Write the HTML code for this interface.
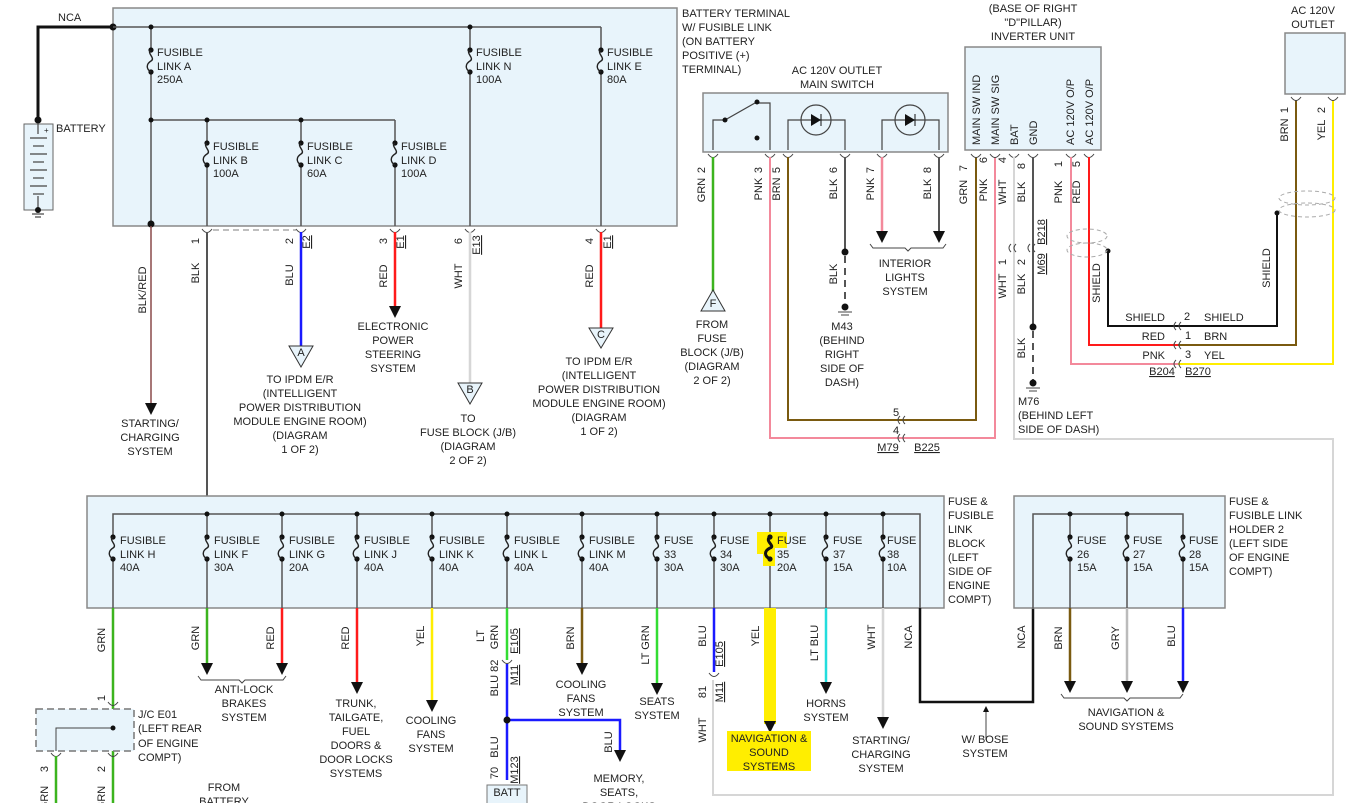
<!DOCTYPE html>
<html><head><meta charset="utf-8"><style>
html,body{margin:0;padding:0;background:#fff;}
svg{display:block;font-family:"Liberation Sans",sans-serif;font-size:11px;fill:#222;}
.b{fill:#e8f4fb;stroke:#888;stroke-width:1.5}
.w{fill:none;stroke-width:2}
.k{stroke:#555}
.f{fill:none;stroke:#222;stroke-width:1.6}
text{fill:#222}
.c{text-anchor:middle}
</style></head><body>
<svg width="1358" height="803" viewBox="0 0 1358 803" xmlns="http://www.w3.org/2000/svg">
<defs>
<g id="fz"><circle cx="0" cy="0" r="2.6" fill="#111"/><circle cx="0" cy="22" r="2.6" fill="#111"/><path d="M0,0 C-5,3 5,8 0,11 C-5,14 -5,19 0,22" fill="none" stroke="#222" stroke-width="1.4"/></g>
<g id="cu"><path d="M-5,-3 Q0,4 5,-3" fill="none" stroke="#444" stroke-width="1"/></g>
<g id="ar"><polygon points="-6,-12 6,-12 0,0" fill="#111"/></g>
</defs>

<!-- TOP BOX -->
<rect class="b" x="113" y="8" width="564" height="218"/>
<polyline class="w" stroke="#111" stroke-width="3" points="113,27 38,27 38,120" style="stroke-width:3"/>
<circle cx="113" cy="27" r="3.5" fill="#111"/>
<circle cx="38" cy="120" r="3.5" fill="#111"/>
<text x="58" y="21">NCA</text>
<rect x="24" y="124" width="29" height="86" fill="#e8f4fb" stroke="#666"/>
<g stroke="#444" stroke-width="1.2"><line x1="30" y1="138" x2="47" y2="138"/><line x1="33" y1="146" x2="44" y2="146"/><line x1="30" y1="154" x2="47" y2="154"/><line x1="33" y1="162" x2="44" y2="162"/><line x1="30" y1="170" x2="47" y2="170"/><line x1="33" y1="178" x2="44" y2="178"/><line x1="30" y1="186" x2="47" y2="186"/><line x1="33" y1="194" x2="44" y2="194"/><line x1="38" y1="124" x2="38" y2="134"/><line x1="38" y1="196" x2="38" y2="210"/><line x1="32" y1="214" x2="44" y2="214"/><line x1="35" y1="217" x2="41" y2="217"/></g>
<circle cx="38" cy="210" r="3" fill="#111"/>
<text x="44" y="133" font-size="8">+</text>
<text x="56" y="132">BATTERY</text>

<g class="k" stroke-width="1.5" fill="none">
<line x1="113" y1="27" x2="601" y2="27"/>
<line x1="601" y1="27" x2="601" y2="50"/><line x1="601" y1="72" x2="601" y2="226"/>
<line x1="470" y1="27" x2="470" y2="50"/><line x1="470" y1="72" x2="470" y2="226"/>
<line x1="151" y1="27" x2="151" y2="50"/><line x1="151" y1="72" x2="151" y2="226"/>
<line x1="151" y1="120" x2="395" y2="120"/>
<line x1="207" y1="120" x2="207" y2="143"/><line x1="207" y1="165" x2="207" y2="226"/>
<line x1="301" y1="120" x2="301" y2="143"/><line x1="301" y1="165" x2="301" y2="226"/>
<line x1="395" y1="120" x2="395" y2="143"/><line x1="395" y1="165" x2="395" y2="226"/>
</g>
<circle cx="151" cy="27" r="2.5" fill="#111"/><circle cx="470" cy="27" r="2.5" fill="#111"/>
<circle cx="151" cy="120" r="2.5" fill="#111"/><circle cx="207" cy="120" r="2.5" fill="#111"/><circle cx="301" cy="120" r="2.5" fill="#111"/>
<circle cx="151" cy="224" r="3.5" fill="#111"/>
<use href="#fz" x="151" y="50"/><use href="#fz" x="470" y="50"/><use href="#fz" x="601" y="50"/>
<use href="#fz" x="207" y="143"/><use href="#fz" x="301" y="143"/><use href="#fz" x="395" y="143"/>
<text x="157" y="56">FUSIBLE</text><text x="157" y="70">LINK A</text><text x="157" y="83">250A</text>
<text x="476" y="56">FUSIBLE</text><text x="476" y="70">LINK N</text><text x="476" y="83">100A</text>
<text x="607" y="56">FUSIBLE</text><text x="607" y="70">LINK E</text><text x="607" y="83">80A</text>
<text x="213" y="150">FUSIBLE</text><text x="213" y="164">LINK B</text><text x="213" y="177">100A</text>
<text x="307" y="150">FUSIBLE</text><text x="307" y="164">LINK C</text><text x="307" y="177">60A</text>
<text x="401" y="150">FUSIBLE</text><text x="401" y="164">LINK D</text><text x="401" y="177">100A</text>

<!-- top box outputs -->
<line x1="151" y1="226" x2="151" y2="405" stroke="#8a4a4a" stroke-width="1.5"/><use href="#ar" x="151" y="415"/>
<text transform="rotate(-90 146 290)" x="146" y="290" class="c">BLK/RED</text>
<text x="150" y="427" class="c">STARTING/</text><text x="150" y="441" class="c">CHARGING</text><text x="150" y="455" class="c">SYSTEM</text>
<line x1="213" y1="230" x2="296" y2="230" stroke="#aaa" stroke-width="1.5" stroke-dasharray="6,4"/>
<use href="#cu" x="207" y="232"/><use href="#cu" x="301" y="232"/><use href="#cu" x="395" y="232"/><use href="#cu" x="470" y="232"/><use href="#cu" x="601" y="232"/>
<line x1="207" y1="232" x2="207" y2="497" stroke="#555" stroke-width="2"/>
<text transform="rotate(-90 199 241)" x="199" y="241" class="c">1</text>
<text transform="rotate(-90 199 273)" x="199" y="273" class="c">BLK</text>
<line x1="301" y1="232" x2="301" y2="346" stroke="#1a1aff" stroke-width="2.5"/>
<text transform="rotate(-90 293 241)" x="293" y="241" class="c">2</text>
<text transform="rotate(-90 310 242)" x="310" y="242" class="c" text-decoration="underline">E2</text>
<text transform="rotate(-90 293 275)" x="293" y="275" class="c">BLU</text>
<polygon points="289,346 313,346 301,367" fill="#e8f4fb" stroke="#333"/><text x="301" y="356" class="c">A</text>
<text x="300" y="383" class="c">TO IPDM E/R</text><text x="300" y="397" class="c">(INTELLIGENT</text><text x="300" y="411" class="c">POWER DISTRIBUTION</text><text x="300" y="425" class="c">MODULE ENGINE ROOM)</text><text x="300" y="439" class="c">(DIAGRAM</text><text x="300" y="453" class="c">1 OF 2)</text>
<line x1="395" y1="232" x2="395" y2="308" stroke="#ff1a1a" stroke-width="2.5"/><use href="#ar" x="395" y="318"/>
<text transform="rotate(-90 387 241)" x="387" y="241" class="c">3</text>
<text transform="rotate(-90 404 242)" x="404" y="242" class="c" text-decoration="underline">E1</text>
<text transform="rotate(-90 387 276)" x="387" y="276" class="c">RED</text>
<text x="393" y="330" class="c">ELECTRONIC</text><text x="393" y="344" class="c">POWER</text><text x="393" y="358" class="c">STEERING</text><text x="393" y="372" class="c">SYSTEM</text>
<line x1="470" y1="232" x2="470" y2="383" stroke="#d6d6d6" stroke-width="2.5"/>
<text transform="rotate(-90 462 241)" x="462" y="241" class="c">6</text>
<text transform="rotate(-90 480 245)" x="480" y="245" class="c" text-decoration="underline">E13</text>
<text transform="rotate(-90 462 276)" x="462" y="276" class="c">WHT</text>
<polygon points="458,383 482,383 470,404" fill="#e8f4fb" stroke="#333"/><text x="470" y="393" class="c">B</text>
<text x="468" y="422" class="c">TO</text><text x="468" y="436" class="c">FUSE BLOCK (J/B)</text><text x="468" y="450" class="c">(DIAGRAM</text><text x="468" y="464" class="c">2 OF 2)</text>
<line x1="601" y1="232" x2="601" y2="328" stroke="#ff1a1a" stroke-width="2.5"/>
<text transform="rotate(-90 593 241)" x="593" y="241" class="c">4</text>
<text transform="rotate(-90 611 242)" x="611" y="242" class="c" text-decoration="underline">E1</text>
<text transform="rotate(-90 593 276)" x="593" y="276" class="c">RED</text>
<polygon points="589,328 613,328 601,348" fill="#e8f4fb" stroke="#333"/><text x="601" y="338" class="c">C</text>
<text x="599" y="365" class="c">TO IPDM E/R</text><text x="599" y="379" class="c">(INTELLIGENT</text><text x="599" y="393" class="c">POWER DISTRIBUTION</text><text x="599" y="407" class="c">MODULE ENGINE ROOM)</text><text x="599" y="421" class="c">(DIAGRAM</text><text x="599" y="435" class="c">1 OF 2)</text>

<text x="682" y="17">BATTERY TERMINAL</text><text x="682" y="31">W/ FUSIBLE LINK</text><text x="682" y="45">(ON BATTERY</text><text x="682" y="59">POSITIVE (+)</text><text x="682" y="73">TERMINAL)</text>

<!-- MAIN SWITCH -->
<text x="837" y="74" class="c">AC 120V OUTLET</text><text x="837" y="88" class="c">MAIN SWITCH</text>
<rect class="b" x="703" y="93" width="245" height="59"/>
<g stroke="#444" stroke-width="1.2" fill="none">
<polyline points="713,150 713,120 725,120 755,103 770,103 770,150"/>
<polyline points="788,150 788,120 845,120 845,150"/>
<polyline points="882,150 882,120 939,120 939,150"/>
<circle cx="816" cy="120" r="15"/><circle cx="910" cy="120" r="15"/>
</g>
<circle cx="725" cy="120" r="2.5" fill="#111"/><circle cx="757" cy="102" r="2.5" fill="#111"/><circle cx="757" cy="138" r="2.5" fill="#111"/>
<polygon points="811,114 811,126 821,120" fill="#111"/><line x1="821" y1="114" x2="821" y2="126" stroke="#111"/>
<polygon points="905,114 905,126 915,120" fill="#111"/><line x1="915" y1="114" x2="915" y2="126" stroke="#111"/>
<use href="#cu" x="713" y="157"/><use href="#cu" x="770" y="157"/><use href="#cu" x="788" y="157"/><use href="#cu" x="845" y="157"/><use href="#cu" x="882" y="157"/><use href="#cu" x="939" y="157"/>
<line x1="713" y1="157" x2="713" y2="292" stroke="#3cb41e" stroke-width="2.5"/>
<text transform="rotate(-90 705 170)" x="705" y="170" class="c">2</text><text transform="rotate(-90 705 190)" x="705" y="190" class="c">GRN</text>
<polygon points="701,311 725,311 713,290" fill="#e8f4fb" stroke="#333"/><text x="713" y="307" class="c">F</text>
<text x="712" y="328" class="c">FROM</text><text x="712" y="342" class="c">FUSE</text><text x="712" y="356" class="c">BLOCK (J/B)</text><text x="712" y="370" class="c">(DIAGRAM</text><text x="712" y="384" class="c">2 OF 2)</text>
<polyline class="w" stroke="#f3899b" points="770,157 770,438 995,438 995,157"/>
<polyline class="w" stroke="#7a5a10" points="788,157 788,420 976,420 976,157"/>
<text transform="rotate(-90 762 170)" x="762" y="170" class="c">3</text><text transform="rotate(-90 762 189)" x="762" y="189" class="c">PNK</text>
<text transform="rotate(-90 780 170)" x="780" y="170" class="c">5</text><text transform="rotate(-90 780 189)" x="780" y="189" class="c">BRN</text>
<line x1="845" y1="157" x2="845" y2="252" stroke="#555" stroke-width="2"/><circle cx="845" cy="252" r="3.5" fill="#111"/>
<line x1="845" y1="256" x2="845" y2="305" stroke="#555" stroke-width="2" stroke-dasharray="7,5"/>
<circle cx="845" cy="307" r="3.5" fill="#111"/><line x1="838" y1="312" x2="852" y2="312" stroke="#444"/><line x1="841" y1="315" x2="849" y2="315" stroke="#444"/>
<text transform="rotate(-90 837 170)" x="837" y="170" class="c">6</text><text transform="rotate(-90 837 189)" x="837" y="189" class="c">BLK</text>
<text transform="rotate(-90 837 274)" x="837" y="274" class="c">BLK</text>
<text x="842" y="330" class="c">M43</text><text x="842" y="344" class="c">(BEHIND</text><text x="842" y="358" class="c">RIGHT</text><text x="842" y="372" class="c">SIDE OF</text><text x="842" y="386" class="c">DASH)</text>
<line x1="882" y1="157" x2="882" y2="232" stroke="#f3899b" stroke-width="2.5"/><use href="#ar" x="882" y="243"/>
<line x1="939" y1="157" x2="939" y2="232" stroke="#555" stroke-width="2"/><use href="#ar" x="939" y="243"/>
<path d="M870,244 l3,4 h32 l3,3 l3,-3 h32 l3,-4" fill="none" stroke="#444"/>
<text transform="rotate(-90 874 170)" x="874" y="170" class="c">7</text><text transform="rotate(-90 874 189)" x="874" y="189" class="c">PNK</text>
<text transform="rotate(-90 931 170)" x="931" y="170" class="c">8</text><text transform="rotate(-90 931 189)" x="931" y="189" class="c">BLK</text>
<text x="905" y="267" class="c">INTERIOR</text><text x="905" y="281" class="c">LIGHTS</text><text x="905" y="295" class="c">SYSTEM</text>
<path d="M900,416 q-4,4 0,8 M905,416 q-4,4 0,8 M900,434 q-4,4 0,8 M905,434 q-4,4 0,8" fill="none" stroke="#444"/>
<text x="896" y="416" class="c">5</text><text x="896" y="434" class="c">4</text>
<text x="888" y="451" class="c" text-decoration="underline">M79</text><text x="927" y="451" class="c" text-decoration="underline">B225</text>

<!-- INVERTER -->
<text x="1033" y="12" class="c">(BASE OF RIGHT</text><text x="1033" y="26" class="c">"D"PILLAR)</text><text x="1033" y="40" class="c">INVERTER UNIT</text>
<rect class="b" x="965" y="47" width="136" height="103"/>
<text transform="rotate(-90 980 145)" x="980" y="145">MAIN SW IND</text>
<text transform="rotate(-90 999 145)" x="999" y="145">MAIN SW SIG</text>
<text transform="rotate(-90 1018 145)" x="1018" y="145">BAT</text>
<text transform="rotate(-90 1037 145)" x="1037" y="145">GND</text>
<text transform="rotate(-90 1074 145)" x="1074" y="145">AC 120V O/P</text>
<text transform="rotate(-90 1093 145)" x="1093" y="145">AC 120V O/P</text>
<use href="#cu" x="976" y="157"/><use href="#cu" x="995" y="157"/><use href="#cu" x="1014" y="157"/><use href="#cu" x="1033" y="157"/><use href="#cu" x="1071" y="157"/><use href="#cu" x="1089" y="157"/>
<text transform="rotate(-90 967 168)" x="967" y="168" class="c">7</text><text transform="rotate(-90 967 192)" x="967" y="192" class="c">GRN</text>
<text transform="rotate(-90 987 160)" x="987" y="160" class="c">6</text><text transform="rotate(-90 987 190)" x="987" y="190" class="c">PNK</text>
<text transform="rotate(-90 1006 160)" x="1006" y="160" class="c">4</text><text transform="rotate(-90 1006 192)" x="1006" y="192" class="c">WHT</text>
<text transform="rotate(-90 1025 166)" x="1025" y="166" class="c">8</text><text transform="rotate(-90 1025 192)" x="1025" y="192" class="c">BLK</text>
<text transform="rotate(-90 1062 164)" x="1062" y="164" class="c">1</text><text transform="rotate(-90 1062 192)" x="1062" y="192" class="c">PNK</text>
<text transform="rotate(-90 1080 164)" x="1080" y="164" class="c">5</text><text transform="rotate(-90 1080 192)" x="1080" y="192" class="c">RED</text>
<polyline class="w" stroke="#d6d6d6" points="1014,157 1014,439 1333,439 1333,795 713,795 713,680"/>
<line x1="1033" y1="157" x2="1033" y2="326" stroke="#555" stroke-width="2"/><circle cx="1033" cy="327" r="3.5" fill="#111"/>
<line x1="1033" y1="331" x2="1033" y2="381" stroke="#555" stroke-width="2" stroke-dasharray="7,5"/>
<circle cx="1033" cy="383" r="3.5" fill="#111"/><line x1="1026" y1="388" x2="1040" y2="388" stroke="#444"/><line x1="1029" y1="391" x2="1037" y2="391" stroke="#444"/>
<path d="M1011,244 q-4,4 0,8 M1016,244 q-4,4 0,8 M1030,244 q-4,4 0,8 M1035,244 q-4,4 0,8" fill="none" stroke="#444"/>
<text transform="rotate(-90 1045 232)" x="1045" y="232" class="c" text-decoration="underline">B218</text>
<text transform="rotate(-90 1045 264)" x="1045" y="264" class="c" text-decoration="underline">M69</text>
<text transform="rotate(-90 1006 262)" x="1006" y="262" class="c">1</text><text transform="rotate(-90 1006 286)" x="1006" y="286" class="c">WHT</text>
<text transform="rotate(-90 1025 262)" x="1025" y="262" class="c">2</text><text transform="rotate(-90 1025 284)" x="1025" y="284" class="c">BLK</text>
<text transform="rotate(-90 1025 348)" x="1025" y="348" class="c">BLK</text>
<text x="1018" y="405">M76</text><text x="1018" y="419">(BEHIND LEFT</text><text x="1018" y="433">SIDE OF DASH)</text>

<polyline class="w" stroke="#f3899b" points="1071,157 1071,364 1178,364"/>
<polyline class="w" stroke="#ff1a1a" points="1089,157 1089,345 1178,345"/>
<polyline class="w" stroke="#111" points="1108,252 1108,326 1178,326"/>
<circle cx="1108" cy="251" r="2.5" fill="#111"/>
<ellipse cx="1087" cy="236" rx="20" ry="7" fill="none" stroke="#aaa" stroke-dasharray="4,3"/>
<ellipse cx="1087" cy="250" rx="20" ry="7" fill="none" stroke="#aaa" stroke-dasharray="4,3"/>
<text transform="rotate(-90 1100 283)" x="1100" y="283" class="c">SHIELD</text>
<polyline class="w" stroke="#e8e800" stroke-width="2" points="1178,364 1333,364 1333,100" style="stroke:#ffee00"/>
<polyline class="w" stroke="#7a5a10" points="1178,345 1296,345 1296,100"/>
<polyline class="w" stroke="#111" points="1178,326 1277,326 1277,213"/>
<circle cx="1277" cy="213" r="2.5" fill="#111"/>
<ellipse cx="1307" cy="198" rx="28" ry="7" fill="none" stroke="#aaa" stroke-dasharray="4,3"/>
<ellipse cx="1307" cy="210" rx="28" ry="7" fill="none" stroke="#aaa" stroke-dasharray="4,3"/>
<text transform="rotate(-90 1270 268)" x="1270" y="268" class="c">SHIELD</text>
<path d="M1176,322 q-4,4 0,8 M1181,322 q-4,4 0,8 M1176,341 q-4,4 0,8 M1181,341 q-4,4 0,8 M1176,360 q-4,4 0,8 M1181,360 q-4,4 0,8" fill="none" stroke="#444"/>
<text x="1165" y="321" text-anchor="end">SHIELD</text><text x="1165" y="340" text-anchor="end">RED</text><text x="1165" y="359" text-anchor="end">PNK</text>
<text x="1184" y="320">2</text><text x="1185" y="339">1</text><text x="1185" y="358">3</text>
<text x="1204" y="321">SHIELD</text><text x="1204" y="340">BRN</text><text x="1204" y="359">YEL</text>
<text x="1162" y="375" class="c" text-decoration="underline">B204</text><text x="1198" y="375" class="c" text-decoration="underline">B270</text>

<text x="1313" y="14" class="c">AC 120V</text><text x="1313" y="28" class="c">OUTLET</text>
<rect class="b" x="1285" y="33" width="60" height="61"/>
<use href="#cu" x="1296" y="100"/><use href="#cu" x="1333" y="100"/>
<text transform="rotate(-90 1288 110)" x="1288" y="110" class="c">1</text><text transform="rotate(-90 1288 130)" x="1288" y="130" class="c">BRN</text>
<text transform="rotate(-90 1325 110)" x="1325" y="110" class="c">2</text><text transform="rotate(-90 1325 130)" x="1325" y="130" class="c">YEL</text>

<!-- BOTTOM FUSE BLOCK -->
<rect class="b" x="87" y="496" width="857" height="112"/>
<g class="k" stroke-width="1.5" fill="none">
<polyline points="113,608 113,514 920,514 920,608"/>
<line x1="207" y1="514" x2="207" y2="608"/><line x1="282" y1="514" x2="282" y2="608"/><line x1="357" y1="514" x2="357" y2="608"/><line x1="432" y1="514" x2="432" y2="608"/><line x1="507" y1="514" x2="507" y2="608"/><line x1="582" y1="514" x2="582" y2="608"/><line x1="657" y1="514" x2="657" y2="608"/><line x1="714" y1="514" x2="714" y2="608"/><line x1="770" y1="514" x2="770" y2="608"/><line x1="826" y1="514" x2="826" y2="608"/><line x1="883" y1="514" x2="883" y2="608"/>
</g>
<g fill="#e8f4fb"><rect x="108" y="537" width="10" height="22"/><rect x="202" y="537" width="10" height="22"/><rect x="277" y="537" width="10" height="22"/><rect x="352" y="537" width="10" height="22"/><rect x="427" y="537" width="10" height="22"/><rect x="502" y="537" width="10" height="22"/><rect x="577" y="537" width="10" height="22"/><rect x="652" y="537" width="10" height="22"/><rect x="709" y="537" width="10" height="22"/><rect x="765" y="537" width="10" height="22"/><rect x="821" y="537" width="10" height="22"/><rect x="878" y="537" width="10" height="22"/></g>
<g fill="#111"><circle cx="207" cy="514" r="2.5"/><circle cx="282" cy="514" r="2.5"/><circle cx="357" cy="514" r="2.5"/><circle cx="432" cy="514" r="2.5"/><circle cx="507" cy="514" r="2.5"/><circle cx="582" cy="514" r="2.5"/><circle cx="657" cy="514" r="2.5"/><circle cx="714" cy="514" r="2.5"/><circle cx="770" cy="514" r="2.5"/><circle cx="826" cy="514" r="2.5"/><circle cx="883" cy="514" r="2.5"/></g>
<path d="M757,532 h30 v16 h-12 v18 h-12 v-12 h-6z" fill="#ffee00"/>
<use href="#fz" x="113" y="537"/><use href="#fz" x="207" y="537"/><use href="#fz" x="282" y="537"/><use href="#fz" x="357" y="537"/><use href="#fz" x="432" y="537"/><use href="#fz" x="507" y="537"/><use href="#fz" x="582" y="537"/><use href="#fz" x="657" y="537"/><use href="#fz" x="714" y="537"/><use href="#fz" x="770" y="537"/><use href="#fz" x="826" y="537"/><use href="#fz" x="883" y="537"/>
<path d="M770,537 C764,541 776,546 770,548 C764,551 764,556 770,559" fill="none" stroke="#111" stroke-width="3"/>
<text x="120" y="544">FUSIBLE</text><text x="120" y="558">LINK H</text><text x="120" y="571">40A</text>
<text x="214" y="544">FUSIBLE</text><text x="214" y="558">LINK F</text><text x="214" y="571">30A</text>
<text x="289" y="544">FUSIBLE</text><text x="289" y="558">LINK G</text><text x="289" y="571">20A</text>
<text x="364" y="544">FUSIBLE</text><text x="364" y="558">LINK J</text><text x="364" y="571">40A</text>
<text x="439" y="544">FUSIBLE</text><text x="439" y="558">LINK K</text><text x="439" y="571">40A</text>
<text x="514" y="544">FUSIBLE</text><text x="514" y="558">LINK L</text><text x="514" y="571">40A</text>
<text x="589" y="544">FUSIBLE</text><text x="589" y="558">LINK M</text><text x="589" y="571">40A</text>
<text x="664" y="544">FUSE</text><text x="664" y="558">33</text><text x="664" y="571">30A</text>
<text x="720" y="544">FUSE</text><text x="720" y="558">34</text><text x="720" y="571">30A</text>
<text x="777" y="544">FUSE</text><text x="777" y="558">35</text><text x="777" y="571">20A</text>
<text x="833" y="544">FUSE</text><text x="833" y="558">37</text><text x="833" y="571">15A</text>
<text x="887" y="544">FUSE</text><text x="887" y="558">38</text><text x="887" y="571">10A</text>
<text x="948" y="505">FUSE &amp;</text><text x="948" y="519">FUSIBLE</text><text x="948" y="533">LINK</text><text x="948" y="547">BLOCK</text><text x="948" y="561">(LEFT</text><text x="948" y="575">SIDE OF</text><text x="948" y="589">ENGINE</text><text x="948" y="603">COMPT)</text>

<!-- bottom wires -->
<line x1="113" y1="608" x2="113" y2="803" stroke="#3cb41e" stroke-width="2.5"/>
<text transform="rotate(-90 105 640)" x="105" y="640" class="c">GRN</text>
<rect x="36" y="709" width="98" height="42" fill="#e8f4fb" stroke="#777" stroke-dasharray="7,4" stroke-width="1.5"/>
<polyline points="113,728 56,728 56,751" fill="none" stroke="#444"/><circle cx="113" cy="728" r="2.5" fill="#111"/>
<use href="#cu" x="113" y="705"/><use href="#cu" x="56" y="756"/><use href="#cu" x="113" y="756"/>
<line x1="56" y1="756" x2="56" y2="803" stroke="#3cb41e" stroke-width="2.5"/>
<text transform="rotate(-90 105 698)" x="105" y="698" class="c">1</text>
<text transform="rotate(-90 48 769)" x="48" y="769" class="c">3</text><text transform="rotate(-90 105 769)" x="105" y="769" class="c">2</text>
<text transform="rotate(-90 48 798)" x="48" y="798" class="c">GRN</text><text transform="rotate(-90 105 798)" x="105" y="798" class="c">GRN</text>
<text x="138" y="718">J/C E01</text><text x="138" y="732">(LEFT REAR</text><text x="138" y="747">OF ENGINE</text><text x="138" y="761">COMPT)</text>
<text x="224" y="791" class="c">FROM</text><text x="224" y="805" class="c">BATTERY</text>

<line x1="207" y1="608" x2="207" y2="663" stroke="#3cb41e" stroke-width="2.5"/><use href="#ar" x="207" y="675"/>
<line x1="282" y1="608" x2="282" y2="663" stroke="#ff1a1a" stroke-width="2.5"/><use href="#ar" x="282" y="675"/>
<path d="M198,676 l3,4 h38 l3,3 l3,-3 h38 l3,-4" fill="none" stroke="#444"/>
<text transform="rotate(-90 199 638)" x="199" y="638" class="c">GRN</text><text transform="rotate(-90 274 638)" x="274" y="638" class="c">RED</text>
<text x="244" y="693" class="c">ANTI-LOCK</text><text x="244" y="707" class="c">BRAKES</text><text x="244" y="721" class="c">SYSTEM</text>
<line x1="357" y1="608" x2="357" y2="682" stroke="#ff1a1a" stroke-width="2.5"/><use href="#ar" x="357" y="694"/>
<text transform="rotate(-90 349 638)" x="349" y="638" class="c">RED</text>
<text x="356" y="707" class="c">TRUNK,</text><text x="356" y="721" class="c">TAILGATE,</text><text x="356" y="735" class="c">FUEL</text><text x="356" y="749" class="c">DOORS &amp;</text><text x="356" y="763" class="c">DOOR LOCKS</text><text x="356" y="777" class="c">SYSTEMS</text>
<line x1="432" y1="608" x2="432" y2="700" stroke="#ffee00" stroke-width="2.5"/><use href="#ar" x="432" y="712"/>
<text transform="rotate(-90 424 636)" x="424" y="636" class="c">YEL</text>
<text x="431" y="724" class="c">COOLING</text><text x="431" y="738" class="c">FANS</text><text x="431" y="752" class="c">SYSTEM</text>
<line x1="507" y1="608" x2="507" y2="660" stroke="#33dd33" stroke-width="2.5"/><use href="#cu" x="507" y="663"/>
<polyline class="w" stroke="#1a1aff" points="507,664 507,780" style="stroke-width:2.5"/>
<polyline class="w" stroke="#1a1aff" points="507,720 620,720 620,750" style="stroke-width:2.5"/><use href="#ar" x="620" y="762"/>
<circle cx="507" cy="720" r="3.5" fill="#111"/>
<text transform="rotate(-90 484 636)" x="484" y="636" class="c">LT</text><text transform="rotate(-90 498 637)" x="498" y="637" class="c">GRN</text>
<text transform="rotate(-90 518 641)" x="518" y="641" class="c" text-decoration="underline">E105</text>
<text transform="rotate(-90 518 675)" x="518" y="675" class="c" text-decoration="underline">M11</text>
<text transform="rotate(-90 498 678)" x="498" y="678" class="c">BLU 82</text>
<text transform="rotate(-90 498 747)" x="498" y="747" class="c">BLU</text>
<text transform="rotate(-90 498 773)" x="498" y="773" class="c">70</text>
<text transform="rotate(-90 518 770)" x="518" y="770" class="c" text-decoration="underline">M123</text>
<text transform="rotate(-90 612 742)" x="612" y="742" class="c">BLU</text>
<rect x="487" y="785" width="40" height="20" fill="#e8f4fb" stroke="#777"/><text x="507" y="796" class="c">BATT</text>
<text x="619" y="782" class="c">MEMORY,</text><text x="619" y="796" class="c">SEATS,</text><text x="619" y="810" class="c">DOOR LOCKS</text>
<line x1="582" y1="608" x2="582" y2="663" stroke="#7a5a10" stroke-width="2.5"/><use href="#ar" x="582" y="675"/>
<text transform="rotate(-90 574 638)" x="574" y="638" class="c">BRN</text>
<text x="581" y="688" class="c">COOLING</text><text x="581" y="702" class="c">FANS</text><text x="581" y="716" class="c">SYSTEM</text>
<line x1="657" y1="608" x2="657" y2="683" stroke="#33dd33" stroke-width="2.5"/><use href="#ar" x="657" y="695"/>
<text transform="rotate(-90 649 645)" x="649" y="645" class="c">LT GRN</text>
<text x="657" y="705" class="c">SEATS</text><text x="657" y="719" class="c">SYSTEM</text>
<line x1="714" y1="608" x2="714" y2="672" stroke="#1a1aff" stroke-width="2.5"/><use href="#cu" x="714" y="676"/>
<text transform="rotate(-90 706 636)" x="706" y="636" class="c">BLU</text>
<text transform="rotate(-90 723 654)" x="723" y="654" class="c" text-decoration="underline">E105</text>
<text transform="rotate(-90 723 692)" x="723" y="692" class="c" text-decoration="underline">M11</text>
<text transform="rotate(-90 706 692)" x="706" y="692" class="c">81</text>
<text transform="rotate(-90 706 730)" x="706" y="730" class="c">WHT</text>
<rect x="764" y="608" width="12" height="116" fill="#ffee00"/><use href="#ar" x="770" y="733"/>
<text transform="rotate(-90 759 636)" x="759" y="636" class="c">YEL</text>
<rect x="727" y="731" width="84" height="40" fill="#ffee00"/>
<text x="769" y="742" class="c">NAVIGATION &amp;</text><text x="769" y="756" class="c">SOUND</text><text x="769" y="770" class="c">SYSTEMS</text>
<line x1="826" y1="608" x2="826" y2="683" stroke="#22dddd" stroke-width="2.5"/><use href="#ar" x="826" y="694"/>
<text transform="rotate(-90 818 643)" x="818" y="643" class="c">LT BLU</text>
<text x="826" y="707" class="c">HORNS</text><text x="826" y="721" class="c">SYSTEM</text>
<line x1="883" y1="608" x2="883" y2="718" stroke="#d6d6d6" stroke-width="2.5"/><use href="#ar" x="883" y="729"/>
<text transform="rotate(-90 875 637)" x="875" y="637" class="c">WHT</text>
<text x="881" y="744" class="c">STARTING/</text><text x="881" y="758" class="c">CHARGING</text><text x="881" y="772" class="c">SYSTEM</text>
<polyline class="w" stroke="#111" points="920,608 920,702 1033,702 1033,608" style="stroke-width:2.5"/>
<text transform="rotate(-90 912 637)" x="912" y="637" class="c">NCA</text>
<text transform="rotate(-90 1025 637)" x="1025" y="637" class="c">NCA</text>
<line x1="986" y1="740" x2="986" y2="710" stroke="#444"/><polygon points="983,712 989,712 986,706" fill="#111"/>
<text x="985" y="743" class="c">W/ BOSE</text><text x="985" y="757" class="c">SYSTEM</text>

<!-- FUSE BOX 2 -->
<rect class="b" x="1014" y="496" width="211" height="112"/>
<g class="k" stroke-width="1.5" fill="none"><polyline points="1033,608 1033,514 1183,514 1183,608"/><line x1="1070" y1="514" x2="1070" y2="608"/><line x1="1127" y1="514" x2="1127" y2="608"/></g>
<g fill="#e8f4fb"><rect x="1065" y="537" width="10" height="22"/><rect x="1122" y="537" width="10" height="22"/><rect x="1178" y="537" width="10" height="22"/></g>
<circle cx="1070" cy="514" r="2.5" fill="#111"/><circle cx="1127" cy="514" r="2.5" fill="#111"/>
<use href="#fz" x="1070" y="537"/><use href="#fz" x="1127" y="537"/><use href="#fz" x="1183" y="537"/>
<text x="1077" y="544">FUSE</text><text x="1077" y="558">26</text><text x="1077" y="571">15A</text>
<text x="1133" y="544">FUSE</text><text x="1133" y="558">27</text><text x="1133" y="571">15A</text>
<text x="1189" y="544">FUSE</text><text x="1189" y="558">28</text><text x="1189" y="571">15A</text>
<text x="1229" y="505">FUSE &amp;</text><text x="1229" y="519">FUSIBLE LINK</text><text x="1229" y="533">HOLDER 2</text><text x="1229" y="547">(LEFT SIDE</text><text x="1229" y="561">OF ENGINE</text><text x="1229" y="575">COMPT)</text>
<line x1="1070" y1="608" x2="1070" y2="682" stroke="#7a5a10" stroke-width="2.5"/><use href="#ar" x="1070" y="693"/>
<line x1="1127" y1="608" x2="1127" y2="682" stroke="#bbb" stroke-width="2.5"/><use href="#ar" x="1127" y="693"/>
<line x1="1183" y1="608" x2="1183" y2="682" stroke="#1a1aff" stroke-width="2.5"/><use href="#ar" x="1183" y="693"/>
<path d="M1061,694 l3,4 h60 l3,3 l3,-3 h50 l3,-4" fill="none" stroke="#444"/>
<text transform="rotate(-90 1062 638)" x="1062" y="638" class="c">BRN</text>
<text transform="rotate(-90 1119 638)" x="1119" y="638" class="c">GRY</text>
<text transform="rotate(-90 1175 636)" x="1175" y="636" class="c">BLU</text>
<text x="1126" y="716" class="c">NAVIGATION &amp;</text><text x="1126" y="730" class="c">SOUND SYSTEMS</text>
</svg>
</body></html>
